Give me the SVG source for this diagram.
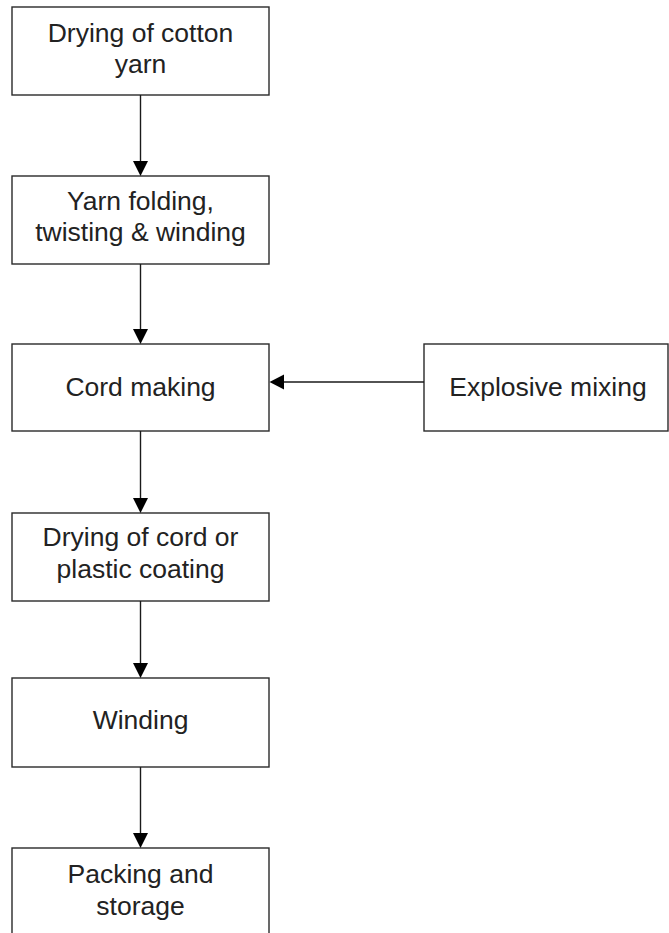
<svg xmlns="http://www.w3.org/2000/svg" width="669" height="933" viewBox="0 0 669 933">
  <style>
    .box { fill: #ffffff; stroke: #2a2a2a; stroke-width: 1.4; }
    .lbl { font-family: "Liberation Sans", Arial, Helvetica, sans-serif; font-size: 26.5px; fill: #222222; text-anchor: middle; }
    .wire { stroke: #1a1a1a; stroke-width: 1.4; fill: none; }
    .head { fill: #000000; }
  </style>
  <rect x="0" y="0" width="669" height="933" fill="#ffffff"/>

  <g id="drying-yarn">
    <rect class="box" x="12" y="7" width="257" height="88"/>
    <text class="lbl" x="140.5" y="42">Drying of cotton</text>
    <text class="lbl" x="140.5" y="73">yarn</text>
  </g>

  <g id="yarn-folding">
    <rect class="box" x="12" y="176" width="257" height="88"/>
    <text class="lbl" x="140.5" y="210">Yarn folding,</text>
    <text class="lbl" x="140.5" y="241">twisting &amp; winding</text>
  </g>

  <g id="cord-making">
    <rect class="box" x="12" y="344" width="257" height="87"/>
    <text class="lbl" x="140.5" y="396">Cord making</text>
  </g>

  <g id="explosive-mixing">
    <rect class="box" x="424" y="344" width="244" height="87"/>
    <text class="lbl" x="548" y="396">Explosive mixing</text>
  </g>

  <g id="drying-cord">
    <rect class="box" x="12" y="513" width="257" height="88"/>
    <text class="lbl" x="140.5" y="546">Drying of cord or</text>
    <text class="lbl" x="140.5" y="578">plastic coating</text>
  </g>

  <g id="winding">
    <rect class="box" x="12" y="678" width="257" height="89"/>
    <text class="lbl" x="140.5" y="729">Winding</text>
  </g>

  <g id="packing">
    <rect class="box" x="12" y="848" width="257" height="100"/>
    <text class="lbl" x="140.5" y="883">Packing and</text>
    <text class="lbl" x="140.5" y="915">storage</text>
  </g>

  <g id="connectors">
    <line class="wire" x1="140.5" y1="95" x2="140.5" y2="163"/>
    <polygon class="head" points="133,161 148,161 140.5,176"/>
    <line class="wire" x1="140.5" y1="264" x2="140.5" y2="331"/>
    <polygon class="head" points="133,329 148,329 140.5,344"/>
    <line class="wire" x1="140.5" y1="431" x2="140.5" y2="500"/>
    <polygon class="head" points="133,498 148,498 140.5,513"/>
    <line class="wire" x1="140.5" y1="601" x2="140.5" y2="665"/>
    <polygon class="head" points="133,663 148,663 140.5,678"/>
    <line class="wire" x1="140.5" y1="767" x2="140.5" y2="835"/>
    <polygon class="head" points="133,833 148,833 140.5,848"/>
    <line class="wire" x1="424" y1="382" x2="282" y2="382"/>
    <polygon class="head" points="284,374.5 284,389.5 269.5,382"/>
  </g>
</svg>
